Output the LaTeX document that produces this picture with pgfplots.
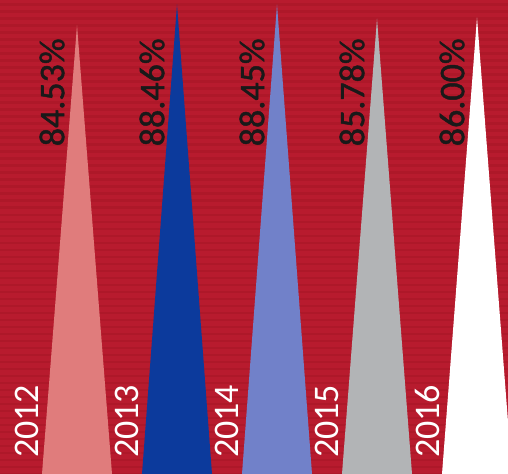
\documentclass[border=0pt]{standalone}
\usepackage{pgfplots}
\pgfplotsset{compat=1.18}
\usepackage{fontspec}
\setmainfont{Carlito}
\newfontfamily\labfont[FakeBold=1.2]{Carlito}
\definecolor{bgred}{HTML}{B81B2E}
\definecolor{stripe}{HTML}{AE1829}
\definecolor{c12}{HTML}{E07C7C}
\definecolor{c13}{HTML}{0C3A9C}
\definecolor{c14}{HTML}{7181C9}
\definecolor{c15}{HTML}{B2B4B6}
\definecolor{c16}{HTML}{FFFFFF}
\begin{document}
\begin{tikzpicture}
\begin{axis}[
  name=ax,
  scale only axis,
  width=508bp, height=474bp,
  xmin=-0.77, xmax=4.31,
  ymin=0, ymax=89.3,
  axis line style={draw=none},
  axis background/.style={fill=bgred},
  xtick=\empty,
  ytick={0,1.32,...,89.3},
  yticklabels={},
  major tick length=0pt,
  ymajorgrids,
  grid style={draw=stripe, line width=2.5bp},
]
\addplot[fill=c12, draw=none] coordinates {(-0.35,0) (0,84.53) (0.35,0)} -- cycle;
\addplot[fill=c13, draw=none] coordinates {(0.65,0) (1,88.46) (1.35,0)} -- cycle;
\addplot[fill=c14, draw=none] coordinates {(1.65,0) (2,88.45) (2.35,0)} -- cycle;
\addplot[fill=c15, draw=none] coordinates {(2.65,0) (3,85.78) (3.35,0)} -- cycle;
\addplot[fill=c16, draw=none] coordinates {(3.65,0) (4,86.00) (4.35,0)} -- cycle;
\foreach \i/\v in {0/84.53,1/88.46,2/88.45,3/85.78,4/86.00}{
  \edef\tmp{\noexpand\node[rotate=90, anchor=east, inner sep=0pt, text=black!90, font=\noexpand\labfont\noexpand\fontsize{36bp}{40bp}\noexpand\selectfont] at (axis cs:\i-0.25,82.1) {\v\noexpand\%};}
  \tmp
}
\foreach \i/\y in {0/2012,1/2013,2/2014,3/2015,4/2016}{
  \edef\tmp{\noexpand\node[rotate=90, anchor=west, inner sep=0pt, text=white, font=\noexpand\fontsize{36bp}{40bp}\noexpand\selectfont] at (axis cs:\i-0.5,3.0) {\y};}
  \tmp
}
\end{axis}
\pgfresetboundingbox
\path[use as bounding box] (ax.south west) rectangle (ax.north east);
\end{tikzpicture}
\end{document}
